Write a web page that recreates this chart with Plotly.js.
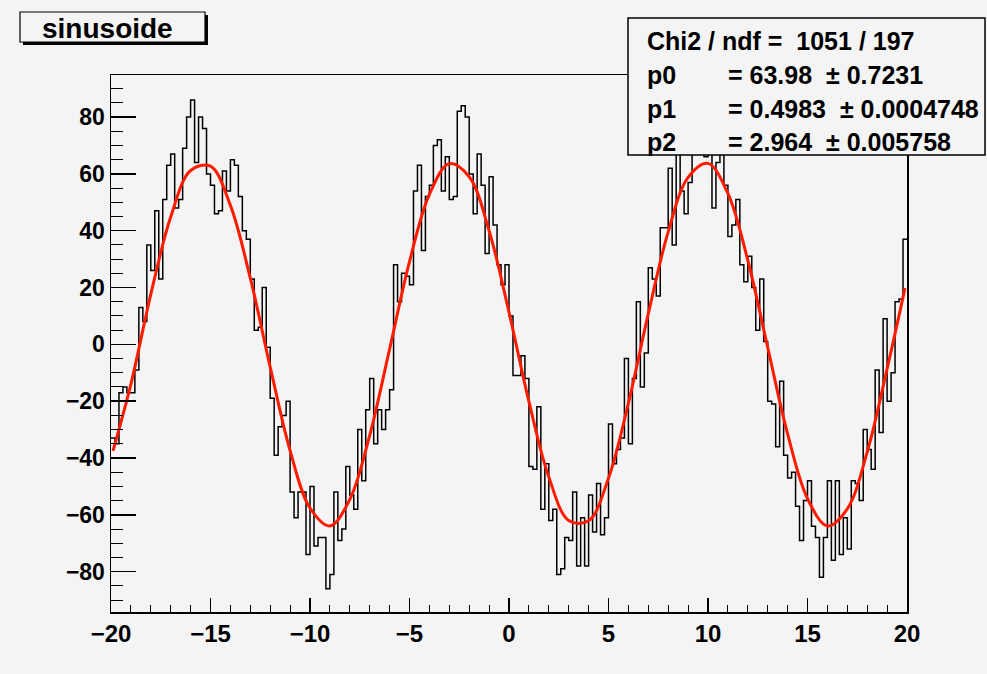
<!DOCTYPE html>
<html>
<head>
<meta charset="utf-8">
<script src="https://cdn.plot.ly/plotly-3.0.1.min.js"></script>
<style>
html,body{margin:0;padding:0;background:#f4f4f4;}
#chart{width:987px;height:674px;}
</style>
</head>
<body>
<div id="chart"></div>
<script>
// ---- data ----
const histTitle = "sinusoide";
const nBins = 200;
const xMin = -20;
const xMax = 20;
const binValues = [
 -33,-35,-17,-15,-17,-17,-9,13,8,35,
 26,47,23,51,63,67,48,51,69,80,
 86,64,80,76,60,56,46,47,61,54,
 65,63,52,40,37,23,5,6,20,-1,
 -19,-39,-29,-25,-20,-52,-61,-52,-52,-74,
 -50,-71,-68,-68,-86,-81,-52,-69,-65,-43,
 -53,-58,-30,-48,-23,-12,-35,-23,-30,-23,
 -16,28,15,25,24,21,54,63,33,52,
 56,70,72,54,66,51,52,82,84,80,
 60,46,67,56,32,59,42,28,21,28,
 10,-11,-11,-4,-12,-43,-44,-22,-58,-42,
 -62,-58,-81,-79,-68,-69,-52,-78,-61,-78,
 -53,-66,-49,-67,-61,-28,-42,-37,-33,-5,
 -35,-12,15,-15,-3,27,23,17,41,41,
 62,35,68,54,46,57,72,75,70,66,
 72,48,64,70,56,38,42,51,28,22,
 31,20,5,23,1,-20,-21,-36,-13,-39,
 -47,-45,-57,-69,-55,-48,-64,-68,-82,-68,
 -48,-76,-48,-74,-61,-72,-48,-49,-55,-30,
 -37,-44,-9,-31,9,-20,-10,15,16,37
];
// fitted curve
const fitX = [-19.9,-19,-18,-17,-16,-15,-14,-13,-12,-11,-10,-9,-8,-7,-6,-5,-4,-3,-2,-1,0,
              1,2,3,4,5,6,7,8,9,10,11,12,13,14,15,16,17,18,19,19.9];
const fitY = [-37.5,-14.0,17.6,44.8,61.2,62.7,48.9,23.3,-8.0,-37.4,-57.6,-63.9,-54.6,-32.0,-1.7,29.1,52.8,63.6,59.0,40.0,11.3,
              -20.1,-46.7,-62.0,-62.1,-47.1,-20.7,10.8,39.6,58.8,63.7,53.1,29.6,-1.1,-31.5,-54.3,-63.9,-57.9,-37.9,-8.6,19.8];
const statsLabels = ["p0","p1","p2"];
const statsValues = ["= 63.98  \u00b1 0.7231","= 0.4983  \u00b1 0.0004748","= 2.964  \u00b1 0.005758"];
const chiText = "Chi2 / ndf =  1051 / 197";
const xTickVals = [-20,-15,-10,-5,0,5,10,15,20];
const yTickVals = [-80,-60,-40,-20,0,20,40,60,80];

// ---- build step outline from bin edges ----
const binW = (xMax - xMin) / nBins;
const stepX = [], stepY = [];
for (let i = 0; i < nBins; i++) { stepX.push(xMin + i * binW); stepY.push(binValues[i]); }
stepX.push(xMax); stepY.push(binValues[nBins - 1]);

// pixel -> paper helpers for the plot frame
const W = 987, H = 674;
const PL = 111, PR = 907, PT = 75, PB = 612;
const px = X => (X - PL) / (PR - PL);
const py = Y => (PB - Y) / (PB - PT);
const BG = '#f4f4f4';
const FONT = 'Liberation Sans, Arial, sans-serif';

const traces = [
  {x: stepX, y: stepY, type: 'scatter', mode: 'lines',
   line: {shape: 'hv', color: '#000000', width: 1.5}, hoverinfo: 'skip'},
  {x: fitX, y: fitY, type: 'scatter', mode: 'lines',
   line: {shape: 'spline', smoothing: 1, color: '#ff1a00', width: 3}, hoverinfo: 'skip'}
];

const shapes = [
  // title box shadow + box
  {type:'rect', xref:'paper', yref:'paper', layer:'above',
   x0:px(23), x1:px(208), y0:py(15), y1:py(45), fillcolor:'#000', line:{width:0}},
  {type:'rect', xref:'paper', yref:'paper', layer:'above',
   x0:px(20), x1:px(205), y0:py(12), y1:py(42), fillcolor:BG, line:{color:'#000', width:1.2}},
  // stats box
  {type:'rect', xref:'paper', yref:'paper', layer:'above',
   x0:px(628), x1:px(985), y0:py(18), y1:py(155), fillcolor:BG, line:{color:'#000', width:1.5}}
];

const annotations = [
  {xref:'paper', yref:'paper', x:px(107), y:py(28), xanchor:'center', yanchor:'middle',
   text:'<b>' + histTitle + '</b>', showarrow:false, font:{family:FONT, size:28, color:'#000'}},
  {xref:'paper', yref:'paper', x:px(645), y:py(41), xanchor:'left', yanchor:'middle',
   text:'<b>' + chiText + '</b>', showarrow:false, font:{family:FONT, size:25, color:'#000'}}
];
const rowY = [75, 109, 142];
for (let i = 0; i < statsLabels.length; i++) {
  annotations.push({xref:'paper', yref:'paper', x:px(645), y:py(rowY[i]), xanchor:'left', yanchor:'middle',
    text:'<b>' + statsLabels[i] + '</b>', showarrow:false, font:{family:FONT, size:25, color:'#000'}});
  annotations.push({xref:'paper', yref:'paper', x:px(726), y:py(rowY[i]), xanchor:'left', yanchor:'middle',
    text:'<b>' + statsValues[i] + '</b>', showarrow:false, font:{family:FONT, size:25, color:'#000'}});
}

const layout = {
  width: W, height: H,
  margin: {l: PL, r: W - PR, t: PT, b: H - PB, pad: 0},
  paper_bgcolor: BG, plot_bgcolor: BG,
  showlegend: false,
  xaxis: {range: [xMin, xMax], tickvals: xTickVals, ticktext: xTickVals.map(v => v < 0 ? '\u2212' + (-v) : String(v)),
          ticks: 'inside', ticklen: 14, tickwidth: 1.5, tickcolor: '#000',
          minor: {dtick: 1, ticks: 'inside', ticklen: 7, tickwidth: 1, tickcolor: '#000', showgrid: false},
          showgrid: false, zeroline: false, showline: true, mirror: true, linecolor: '#000', linewidth: 1.5,
          tickfont: {family: FONT, size: 24, color: '#000', weight: 'bold'}},
  yaxis: {range: [-94.2, 94.8], tickvals: yTickVals, ticktext: yTickVals.map(v => v < 0 ? '\u2212' + (-v) : String(v)),
          ticks: 'inside', ticklen: 25, tickwidth: 1.5, tickcolor: '#000',
          minor: {dtick: 5, ticks: 'inside', ticklen: 12, tickwidth: 1, tickcolor: '#000', showgrid: false},
          showgrid: false, zeroline: false, showline: true, mirror: true, linecolor: '#000', linewidth: 1.5,
          tickfont: {family: FONT, size: 23, color: '#000', weight: 'bold'}},
  shapes: shapes,
  annotations: annotations
};

Plotly.newPlot('chart', traces, layout, {staticPlot: true, displayModeBar: false});
</script>
</body>
</html>
